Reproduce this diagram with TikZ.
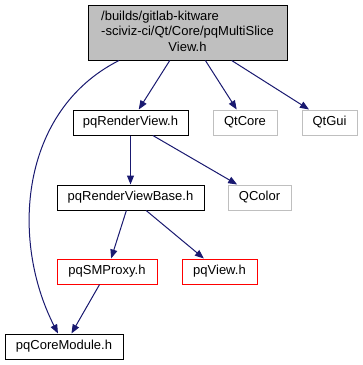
\documentclass[tikz,border=0pt]{standalone}
\usepackage{fontspec}
\setmainfont{Liberation Sans}
\usetikzlibrary{arrows.meta}
\definecolor{edgeblue}{HTML}{191970}
\definecolor{boxgray}{HTML}{BFBFBF}

\begin{document}
\begin{tikzpicture}[x=1pt,y=-1pt,
    font=\fontsize{13}{15.5}\selectfont,
    hdr/.style={draw=black, line width=1pt, minimum height=25pt, inner sep=0pt},
    ext/.style={hdr, draw=boxgray},
    dep/.style={-{Triangle[length=9pt,width=7pt]}, draw=edgeblue, line width=1pt}]
\useasboundingbox (0,0) rectangle (363,365);

% include boxes
\node[hdr, fill=boxgray, minimum width=199pt, minimum height=55pt] (main) at (187.5,32.5)
    {\begin{tabular}{@{}l@{}}/builds/gitlab-kitware\\-sciviz-ci/Qt/Core/pqMultiSlice\\\multicolumn{1}{@{}c@{}}{View.h}\end{tabular}};
\node[hdr, minimum width=115pt] (view) at (130.5,122.5) {pqRenderView.h};
\node[ext, minimum width=64pt] (qtcore) at (245,122.5) {QtCore};
\node[ext, minimum width=55pt] (qtgui) at (329.5,122.5) {QtGui};
\node[hdr, minimum width=147pt] (base) at (130.5,197.5) {pqRenderViewBase.h};
\node[ext, minimum width=63pt] (qcolor) at (259.5,197.5) {QColor};
\node[hdr, draw=red, minimum width=100pt] (proxy) at (107,271.5) {pqSMProxy.h};
\node[hdr, draw=red, minimum width=75pt] (pqview) at (219.5,271.5) {pqView.h};
\node[hdr, minimum width=118pt] (core) at (64,346.5) {pqCoreModule.h};

% dependencies
\draw[dep] ([xshift=-68.5pt]main.south) .. controls +(-99,50) and +(-48,-94) .. ([xshift=-6pt]core.north);
\draw[dep] (main) -- (view);
\draw[dep] (main) -- (qtcore);
\draw[dep] (main) -- (qtgui);
\draw[dep] (view) -- (base);
\draw[dep] (view) -- (qcolor);
\draw[dep] (base) -- (proxy);
\draw[dep] (base) -- (pqview);
\draw[dep] (proxy) -- (core);
\end{tikzpicture}
\end{document}
